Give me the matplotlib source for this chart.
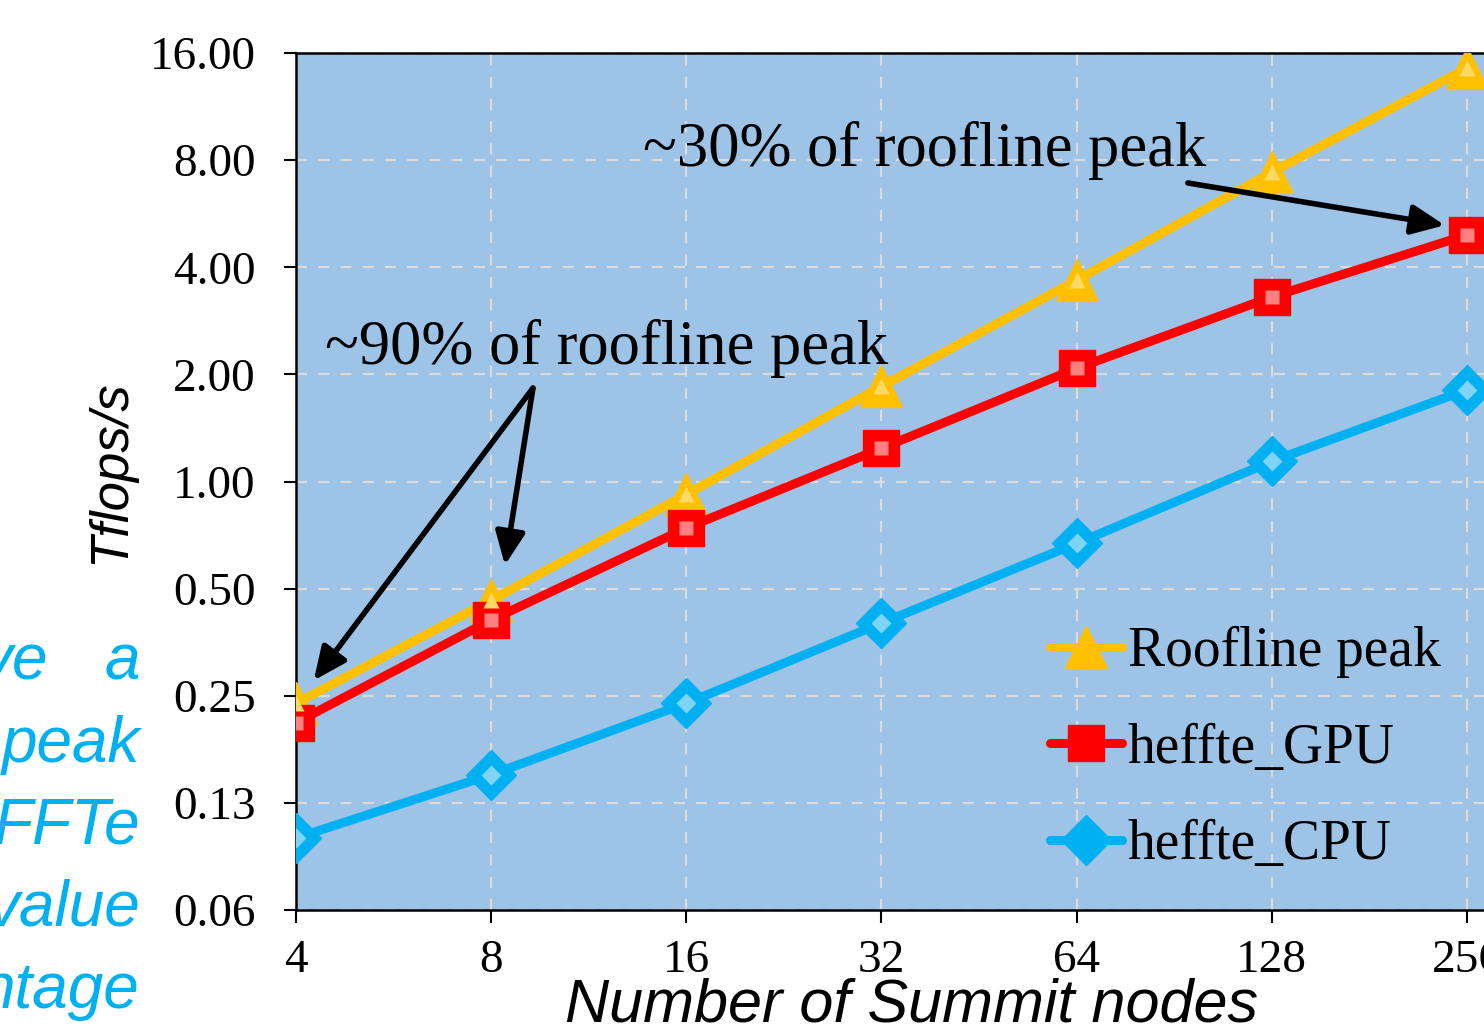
import matplotlib
matplotlib.use("Agg")
import matplotlib.pyplot as plt
from matplotlib.ticker import FixedLocator, NullLocator

nodes = [4, 8, 16, 32, 64, 128, 256]
roofline = [0.238, 0.464, 0.92, 1.85, 3.68, 7.4, 14.5]
gpu = [0.21, 0.408, 0.74, 1.24, 2.08, 3.30, 4.93]
cpu = [0.0996, 0.15, 0.238, 0.40, 0.67, 1.14, 1.81]

yticks = [0.0625, 0.125, 0.25, 0.5, 1, 2, 4, 8, 16]
ytick_labels = ['0.06', '0.13', '0.25', '0.50', '1.00', '2.00', '4.00', '8.00', '16.00']
side_text = ['peak', 'FFTe', 'value', 'ntage']

serif = 'Liberation Serif'
sans = 'Liberation Sans'

fig = plt.figure(figsize=(14.84, 10.32), dpi=100)
ax = fig.add_axes([296 / 1484, 1 - 910 / 1032, 1210 / 1484, 857 / 1032])
ax.set_facecolor('#9DC3E6')

ax.set_xscale('log', base=2)
ax.set_yscale('log', base=2)
ax.set_xlim(4, 256 * 2 ** 0.2)
ax.set_ylim(0.0625, 16)

ax.grid(True, color='#dcdcdc', linestyle=(0, (5, 5)), linewidth=1.6)
ax.set_axisbelow(True)

series = [
    (roofline, '#FFC000', '#FFD966', '^', 'Roofline peak', 30),
    (gpu, '#FF0000', '#FF8080', 's', 'heffte_GPU', 26),
    (cpu, '#00B0F0', '#7FD3F5', 'D', 'heffte_CPU', 25),
]
handles = []
for vals, col, light, mk, lab, ms in series:
    ln, = ax.plot(nodes, vals, color=col, lw=6.5, marker=mk, markersize=ms,
                  markerfacecolor=col, markeredgecolor=col, label=lab,
                  solid_capstyle='round', zorder=3)
    # lighter centre on the markers
    ax.plot(nodes, vals, ls='none', marker=mk, markersize=ms * 0.4,
            markerfacecolor=light, markeredgecolor='none', zorder=4)
    handles.append(ln)

ax.xaxis.set_major_locator(FixedLocator(nodes))
ax.xaxis.set_minor_locator(NullLocator())
ax.set_xticklabels([str(n) for n in nodes])
ax.yaxis.set_major_locator(FixedLocator(yticks))
ax.yaxis.set_minor_locator(NullLocator())
ax.set_yticklabels(ytick_labels)

for lbl in ax.get_xticklabels() + ax.get_yticklabels():
    lbl.set_fontfamily(serif)
    lbl.set_fontsize(34)
ax.tick_params(axis='both', direction='out', length=9, width=1.5, color='black')
ax.tick_params(axis='y', pad=20)
ax.tick_params(axis='x', pad=12)

for s in ['left', 'bottom', 'top']:
    ax.spines[s].set_linewidth(1.8)
    ax.spines[s].set_color('black')
ax.spines['right'].set_visible(False)

ax.set_xlabel('Number of Summit nodes', fontfamily=sans, style='italic', fontsize=44, va='center')
ax.xaxis.set_label_coords((912 - 296) / 1210, -(1006 - 910) / 857)
ax.set_ylabel('Tflops/s', fontfamily=sans, style='italic', fontsize=38, va='center')
ax.yaxis.set_label_coords(-(296 - 110) / 1210, (910 - 472) / 857)

# annotations
ax.text(4.43, 2.37, '~90% of roofline peak', fontfamily=serif, fontsize=45, va='center', ha='left')
ax.text(13.7, 8.5, '~30% of roofline peak', fontfamily=serif, fontsize=45, va='center', ha='left')
arrow = dict(arrowstyle='-|>,head_length=2.0,head_width=0.9', color='black', lw=4, shrinkA=0, shrinkB=0)
ax.annotate('', xy=(4.26, 0.276), xytext=(9.28, 1.83), arrowprops=arrow)
ax.annotate('', xy=(8.40, 0.582), xytext=(9.28, 1.83), arrowprops=arrow)
ax.annotate('', xy=(236.6, 5.25), xytext=(95, 6.9), arrowprops=arrow)

leg = ax.legend(handles=handles, loc='upper left', bbox_to_anchor=((1050 - 296) / 1210, (910 - 626) / 857),
                frameon=False, prop={'family': serif, 'size': 40}, handlelength=1.3,
                handletextpad=0.1, labelspacing=0.8, borderpad=0, borderaxespad=0)

# cut-off slide text on the left
blue = '#00B0F0'
fig.text(48 / 1484, 1 - 662 / 1032, 've', color=blue, fontfamily=sans, style='italic',
         fontsize=46, ha='right', va='center')
fig.text(140 / 1484, 1 - 662 / 1032, 'a', color=blue, fontfamily=sans, style='italic',
         fontsize=46, ha='right', va='center')
for i, t in enumerate(side_text):
    fig.text(140 / 1484, 1 - (745 + 82 * i) / 1032, t, color=blue, fontfamily=sans,
             style='italic', fontsize=46, ha='right', va='center')

fig.savefig('out.png', dpi=100)
